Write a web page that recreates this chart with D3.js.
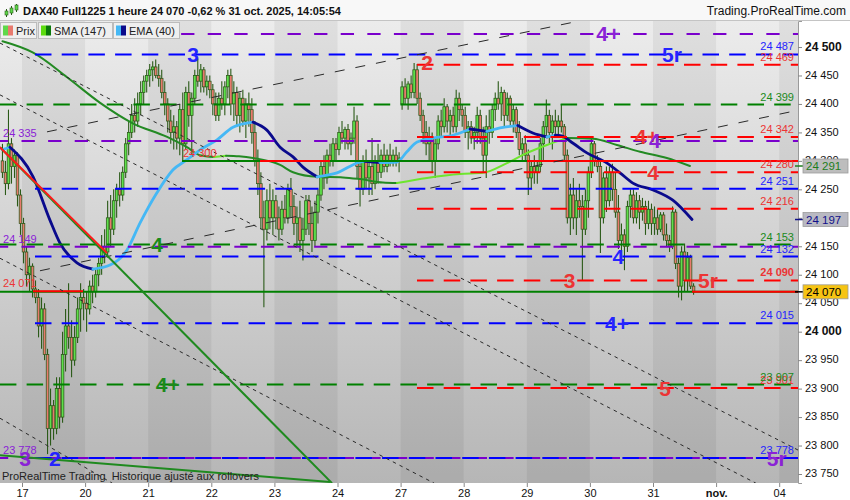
<!DOCTYPE html>
<html>
<head>
<meta charset="utf-8">
<script src="https://cdn.jsdelivr.net/npm/d3@7"></script>
<style>
  body { margin: 0; background: #fff; }
  svg { display: block; font-family: 'Liberation Sans', Arial, sans-serif; }
</style>
</head>
<body>
<div id="chart"></div>
<script>
// session tick labels (x axis)
const sessionLabels = ['17', '20', '21', '22', '23', '24', '27', '28', '29', '30', '31', 'nov.', '04']
const barsPerSession = 21

// hourly candles [open, high, low, close]
const oct16 = [[24300,24330,24270,24280],[24280,24300,24240,24260],[24260,24390,24250,24330],[24330,24340,24260,24290],[24290,24320,24270,24310],[24310,24315,24220,24240],[24240,24250,24170,24190]]
const oct17 = [[24190,24200,24120,24140],[24140,24150,24080,24100],[24100,24130,24070,24115],[24115,24120,24060,24075],[24075,24090,24050,24060],[24060,24075,23990,24010],[24010,24060,23970,24040],[24040,24050,23950,23960],[23960,23970,23785,23830],[23830,23900,23800,23870],[23870,23880,23810,23830],[23830,23920,23820,23900],[23900,23920,23830,23850],[23850,24000,23840,23960],[23960,24040,23930,24010],[24010,24085,23970,23990],[23990,24020,23920,23950],[23950,24010,23940,23990],[23990,24060,23980,24040],[24040,24085,24000,24060],[24060,24075,24020,24050]]
const oct20 = [[24050,24070,24000,24040],[24040,24090,24030,24080],[24080,24100,24050,24070],[24070,24110,24060,24100],[24100,24130,24080,24120],[24120,24170,24100,24150],[24150,24180,24120,24140],[24140,24230,24130,24200],[24200,24240,24150,24180],[24180,24250,24170,24230],[24230,24260,24200,24250],[24250,24280,24220,24240],[24240,24290,24230,24280],[24280,24340,24270,24330],[24330,24370,24310,24350],[24350,24400,24340,24380],[24380,24410,24350,24370],[24370,24420,24360,24400],[24400,24440,24380,24420],[24420,24450,24400,24440],[24440,24460,24420,24450]]
const oct21 = [[24450,24470,24430,24460],[24460,24475,24440,24465],[24465,24478,24445,24450],[24450,24470,24430,24445],[24445,24460,24410,24420],[24420,24440,24380,24400],[24400,24410,24350,24370],[24370,24390,24330,24350],[24350,24380,24320,24360],[24360,24370,24320,24340],[24340,24400,24310,24390],[24390,24420,24300,24330],[24330,24430,24320,24420],[24420,24440,24360,24380],[24380,24420,24310,24410],[24410,24460,24400,24450],[24450,24480,24430,24440],[24440,24470,24420,24460],[24460,24465,24420,24430],[24430,24450,24415,24440],[24440,24450,24410,24425]]
const oct22 = [[24425,24435,24380,24400],[24400,24420,24370,24380],[24380,24420,24370,24410],[24410,24440,24390,24400],[24400,24440,24380,24430],[24430,24460,24410,24450],[24450,24462,24380,24400],[24400,24440,24370,24420],[24420,24430,24360,24380],[24380,24420,24350,24410],[24410,24425,24360,24370],[24370,24410,24340,24400],[24400,24420,24360,24390],[24390,24410,24330,24350],[24350,24370,24290,24300],[24300,24320,24240,24260],[24260,24280,24180,24200],[24200,24230,24043,24180],[24180,24250,24160,24230],[24230,24260,24180,24200],[24200,24250,24170,24230]]
const oct23 = [[24230,24240,24180,24200],[24200,24220,24160,24180],[24180,24230,24170,24215],[24215,24240,24190,24200],[24200,24260,24190,24250],[24250,24270,24200,24220],[24220,24240,24170,24190],[24190,24220,24150,24200],[24200,24230,24140,24160],[24160,24200,24125,24180],[24180,24240,24170,24230],[24230,24240,24170,24190],[24190,24220,24140,24160],[24160,24230,24150,24210],[24210,24250,24190,24240],[24240,24300,24230,24290],[24290,24310,24250,24270],[24270,24320,24260,24310],[24310,24330,24290,24300],[24300,24340,24290,24330],[24330,24340,24300,24320]]
const oct24 = [[24320,24360,24310,24350],[24350,24370,24330,24340],[24340,24360,24320,24355],[24355,24365,24320,24330],[24330,24350,24310,24340],[24340,24395,24330,24370],[24370,24380,24270,24290],[24290,24300,24220,24250],[24250,24310,24240,24300],[24300,24320,24250,24270],[24270,24300,24240,24290],[24290,24340,24240,24260],[24260,24310,24250,24300],[24300,24330,24260,24280],[24280,24320,24270,24310],[24310,24330,24280,24290],[24290,24320,24280,24310],[24310,24330,24290,24300],[24300,24320,24290,24310],[24310,24325,24290,24300],[24300,24315,24280,24305]]
const oct27 = [[24400,24440,24390,24430],[24430,24445,24400,24410],[24410,24440,24390,24435],[24435,24450,24410,24420],[24420,24472,24410,24460],[24460,24470,24400,24410],[24410,24420,24370,24380],[24380,24390,24330,24350],[24350,24370,24310,24330],[24330,24360,24300,24340],[24340,24350,24280,24300],[24300,24340,24270,24330],[24330,24380,24320,24370],[24370,24390,24340,24360],[24360,24410,24350,24395],[24395,24400,24350,24370],[24370,24390,24340,24380],[24380,24395,24350,24360],[24360,24425,24350,24410],[24410,24420,24370,24390],[24390,24400,24360,24380]]
const oct28 = [[24380,24395,24340,24350],[24350,24370,24320,24360],[24360,24370,24330,24340],[24340,24360,24320,24350],[24350,24395,24330,24380],[24380,24390,24330,24340],[24340,24360,24280,24310],[24310,24380,24270,24360],[24360,24390,24330,24350],[24350,24400,24340,24390],[24390,24420,24370,24410],[24410,24440,24390,24400],[24400,24430,24370,24420],[24420,24425,24360,24380],[24380,24420,24370,24410],[24410,24415,24360,24370],[24370,24400,24350,24390],[24390,24395,24340,24350],[24350,24370,24310,24320],[24320,24340,24300,24330],[24330,24345,24300,24310]]
const oct29 = [[24310,24320,24240,24270],[24270,24300,24250,24290],[24290,24310,24260,24280],[24280,24300,24260,24290],[24290,24340,24280,24330],[24330,24370,24300,24360],[24360,24408,24340,24380],[24380,24390,24330,24350],[24350,24380,24320,24370],[24370,24390,24340,24360],[24360,24380,24340,24370],[24370,24400,24350,24360],[24360,24365,24300,24310],[24310,24320,24190,24200],[24200,24260,24170,24240],[24240,24270,24180,24200],[24200,24250,24170,24230],[24230,24260,24200,24220],[24220,24240,24090,24180],[24180,24250,24170,24230],[24230,24290,24200,24280]]
const oct30 = [[24280,24340,24270,24330],[24330,24335,24290,24300],[24300,24310,24280,24290],[24290,24300,24138,24200],[24200,24280,24190,24270],[24270,24290,24210,24230],[24230,24290,24220,24280],[24280,24295,24230,24250],[24250,24280,24200,24210],[24210,24240,24145,24160],[24160,24190,24140,24170],[24170,24180,24108,24150],[24150,24230,24140,24220],[24220,24250,24200,24240],[24240,24250,24190,24200],[24200,24245,24190,24230],[24230,24240,24180,24210],[24210,24235,24195,24220],[24220,24230,24170,24190],[24190,24230,24180,24215],[24215,24225,24170,24190]]
const oct31 = [[24190,24220,24170,24200],[24200,24215,24170,24180],[24180,24210,24175,24205],[24205,24210,24160,24170],[24170,24190,24150,24160],[24160,24170,24140,24150],[24150,24220,24145,24210],[24210,24215,24110,24120],[24120,24130,24060,24080],[24080,24150,24055,24140],[24140,24155,24070,24090],[24090,24140,24070,24130],[24130,24135,24075,24080],[24080,24085,24065,24070]]

// moving averages [bar index, value]
const ema40 = [[0,24320],[2.5,24324],[10.2,24272],[15.8,24196],[19.1,24156],[24.8,24121],[30.1,24110],[35.8,24117],[41.4,24143],[45.8,24191],[51.4,24244],[56.7,24284],[61.4,24302],[65.7,24319],[71.4,24337],[76.7,24359],[83.4,24368],[88,24354],[92.4,24324],[96.7,24307],[100,24289],[104.7,24272],[111.3,24279],[119,24298],[120.6,24299],[125.6,24297],[131.3,24298],[134.6,24316],[138,24333],[143.3,24340],[149.9,24345],[155.6,24356],[161.2,24352],[166.6,24359],[171.5,24362],[176.5,24349],[181.2,24342],[184,24345],[186,24344],[189.9,24331],[194.5,24314],[201.2,24296],[205.5,24279],[209.8,24261],[216.5,24249],[223.1,24231],[229.5,24197]]
const sma147 = [[0,24510],[10.2,24490],[21.5,24447],[32.5,24402],[43.4,24366],[54.8,24342],[61.4,24324],[65.7,24310],[70.4,24307],[74.4,24309],[78.7,24308],[83.4,24305],[92.4,24293],[96.7,24280],[104.7,24272],[113.3,24271],[119,24268],[126.6,24262],[131.3,24261],[141.3,24270],[152.3,24277],[159.9,24279],[167.9,24296],[174.6,24314],[181.2,24328],[187.9,24340],[196.5,24339],[204.5,24328],[212.2,24316],[221.1,24305],[228.8,24291]]

const lastPrice = 24070
const lastSma = 24291
const lastEma = 24197

// horizontal levels
const blueLevels = [24487, 24251, 24132, 24015, 23778]
const redLevels = [24469, 24342, 24280, 24216, 24090, 23901]
const greenLevels = [24399, 24153, 23907]
const purpleLevels = [24523, 24335, 24149, 23778]
const purpleLabelled = [24335, 24149, 23778]
const priceTicks = d3.range(23750, 24501, 50)

// wave counts [text, colour, session time, level]
const waveLabels = [
  ['3', 'blue', 2.71, 24487], ['4', 'green', 2.14, 24153], ['4+', 'green', 2.31, 23907],
  ['2', 'blue', 0.52, 23778], ['3', 'purple', 0.05, 23778], ['2', 'red', 6.42, 24472],
  ['4+', 'purple', 9.29, 24523], ['5r', 'blue', 10.3, 24487], ['4+', 'red', 9.9, 24342],
  ['4', 'purple', 10.03, 24335], ['4', 'red', 10.0, 24280], ['4', 'blue', 9.45, 24132],
  ['3', 'red', 8.68, 24090], ['5r', 'red', 10.87, 24090], ['4+', 'blue', 9.43, 24015],
  ['5', 'red', 10.19, 23901], ['5r', 'purple', 11.96, 23778],
]

// trend lines [t1, v1, t2, v2]
const shortDashTrends = [[-0.35, 24507, 12.3, 23792], [-0.35, 24416, 11.63, 23734], [-0.35, 24129, 6.53, 23734], [-0.35, 23848, 1.43, 23734]]
const longDashTrends = [[0.396, 24351, 8.843, 24546], [0.285, 24107, 12.3, 24389]]
const greenTrends = [[-0.35, 24324, 4.913, 23734], [-0.35, 23783, 4.881, 23736]]
const redTrend = [-0.35, 24324, 1.347, 24138]
// solid horizontal segments [value, t1, t2, colour]
const solidLevels = [
  [24300, 2.536, 3.772, 'green'], [24300, 3.772, 4.88, 'red'], [24300, 4.88, 8.003, 'green'], [24300, 8.003, 12.3, 'red'],
  [24070, -0.35, 12.3, 'green'], [24071, 0.174, 0.967, 'red'], [24070, 10.62, 12.3, 'red'],
]

const colors = {
  blue: { line: '#0000ff', text: '#2424ff' },
  red: { line: '#ff0000', text: '#ec3434' },
  green: { line: '#008000', text: '#1b8a1b' },
  purple: { line: '#7a00cc', text: '#8a22d6' },
}

const dims = { width: 850, height: 500, top: 21, bottom: 483, right: 798, sessionWidth: 63.1, firstX: 22 }

const svg = d3.select('#chart').append('svg').attr('width', dims.width).attr('height', dims.height)

const xScale = d3.scaleLinear()
  .domain([-dims.firstX / dims.sessionWidth, (dims.right - dims.firstX) / dims.sessionWidth])
  .range([0, dims.right])
const yScale = d3.scaleLinear().domain([23734.2, 24545.7]).range([dims.bottom, dims.top])
const barT = (i) => (i - (oct16.length - 0.5)) / barsPerSession
const fmt = (v) => d3.format(',')(v).replace(/,/g, ' ')

// background
const defs = svg.append('defs')
const bg = defs.append('linearGradient').attr('id', 'bg').attr('x1', 0).attr('x2', 0).attr('y1', 0).attr('y2', 1)
bg.append('stop').attr('offset', '0%').attr('stop-color', '#ececec')
bg.append('stop').attr('offset', '100%').attr('stop-color', '#b6b6b6')
defs.append('clipPath').attr('id', 'plot').append('rect')
  .attr('x', 0).attr('y', dims.top).attr('width', dims.right).attr('height', dims.bottom - dims.top)

svg.append('rect').attr('width', dims.width).attr('height', dims.height).attr('fill', '#fff')
svg.append('rect').attr('x', 0).attr('y', dims.top).attr('width', dims.right).attr('height', dims.bottom - dims.top).attr('fill', 'url(#bg)')

const ctr = svg.append('g').attr('clip-path', 'url(#plot)')

// alternate session bands
ctr.append('g').selectAll('rect')
  .data(d3.range(-1, sessionLabels.length).filter((s) => s % 2 === 0))
  .join('rect')
  .attr('x', (s) => xScale(s))
  .attr('width', xScale(1) - xScale(0))
  .attr('y', dims.top).attr('height', dims.bottom - dims.top)
  .attr('fill', '#000').attr('opacity', 0.055)

// candles
const candles = []
;[oct16, oct17, oct20, oct21, oct22, oct23, oct24, oct27, oct28, oct29, oct30, oct31].forEach((bars, s) => {
  const first = s === 0 ? barsPerSession - bars.length : 0
  bars.forEach((b, k) => candles.push({ t: s - 1 + (first + k + 0.5) / barsPerSession, o: b[0], h: b[1], l: b[2], c: b[3] }))
})
const candleG = ctr.append('g')
candleG.selectAll('line').data(candles).join('line')
  .attr('x1', (d) => xScale(d.t)).attr('x2', (d) => xScale(d.t))
  .attr('y1', (d) => yScale(d.h)).attr('y2', (d) => yScale(d.l))
  .attr('stroke', '#2b5a18').attr('stroke-width', 1.1)
candleG.selectAll('rect').data(candles).join('rect')
  .attr('x', (d) => xScale(d.t) - 1.3).attr('width', 2.6)
  .attr('y', (d) => yScale(Math.max(d.o, d.c)))
  .attr('height', (d) => Math.max(0.8, Math.abs(yScale(d.o) - yScale(d.c))))
  .attr('fill', (d) => (d.c >= d.o ? '#5ee04a' : '#e87a6e'))
  .attr('stroke', '#2b5a18').attr('stroke-width', 0.75)

// moving averages, light when rising and dark when falling
const maLine = d3.line().x((p) => xScale(barT(p[0]))).y((p) => yScale(p[1])).curve(d3.curveMonotoneX)
const drawMa = (points, up, down, width) => {
  const runs = []
  for (let k = 1; k < points.length; k++) {
    const dir = points[k][1] >= points[k - 1][1] ? 'up' : 'down'
    const last = runs[runs.length - 1]
    if (last && last.dir === dir) last.pts.push(points[k])
    else runs.push({ dir, pts: [points[k - 1], points[k]] })
  }
  ctr.append('g').selectAll('path').data(runs).join('path')
    .attr('d', (r) => maLine(r.pts))
    .attr('fill', 'none')
    .attr('stroke', (r) => (r.dir === 'up' ? up : down))
    .attr('stroke-width', width)
    .attr('stroke-linecap', 'round')
}
drawMa(sma147, '#6ee62e', '#238a23', 2)
drawMa(ema40, '#45b8f5', '#0a0a8c', 2.8)

// dashed levels
const levelSets = [
  { values: greenLevels, color: 'green', from: -0.35, dash: '16.5 10.2', offset: 0 },
  { values: purpleLevels, color: 'purple', from: -0.35, dash: '13.3 13.3', offset: 5 },
  { values: blueLevels, color: 'blue', from: 0.206, dash: '16.5 10.2', offset: 0 },
  { values: redLevels, color: 'red', from: 6.26, dash: '16.5 10.2', offset: 0 },
]
levelSets.forEach((set) => {
  ctr.append('g').selectAll('line').data(set.values).join('line')
    .attr('x1', xScale(set.from)).attr('x2', dims.right)
    .attr('y1', (d) => yScale(d)).attr('y2', (d) => yScale(d))
    .attr('stroke', colors[set.color].line).attr('stroke-width', 2)
    .attr('stroke-dasharray', set.dash).attr('stroke-dashoffset', set.offset)
})

// solid horizontal segments
ctr.append('g').selectAll('line').data(solidLevels).join('line')
  .attr('x1', (d) => xScale(d[1])).attr('x2', (d) => xScale(d[2]))
  .attr('y1', (d) => yScale(d[0])).attr('y2', (d) => yScale(d[0]))
  .attr('stroke', (d) => colors[d[3]].line).attr('stroke-width', 2)

// trend lines
const trend = (g, data) => g.selectAll('line').data(data).join('line')
  .attr('x1', (d) => xScale(d[0])).attr('y1', (d) => yScale(d[1]))
  .attr('x2', (d) => xScale(d[2])).attr('y2', (d) => yScale(d[3]))
trend(ctr.append('g'), shortDashTrends).attr('stroke', '#2a2a2a').attr('stroke-width', 1).attr('stroke-dasharray', '3.5 4')
trend(ctr.append('g'), longDashTrends).attr('stroke', '#2a2a2a').attr('stroke-width', 1).attr('stroke-dasharray', '10 11')
trend(ctr.append('g'), greenTrends).attr('stroke', '#1f8a1f').attr('stroke-width', 2)
trend(ctr.append('g'), [redTrend]).attr('stroke', '#ff1a1a').attr('stroke-width', 2)

// value labels on the levels
const rightLabels = [
  ...blueLevels.map((v) => ({ v, c: 'blue' })),
  ...redLevels.map((v) => ({ v, c: 'red' })),
  ...greenLevels.map((v) => ({ v, c: 'green' })),
]
ctr.append('g').selectAll('text').data(rightLabels).join('text')
  .attr('x', dims.right - 4).attr('y', (d) => yScale(d.v) - 4)
  .attr('text-anchor', 'end').attr('font-size', 11)
  .attr('font-weight', (d) => (d.v === 24090 ? 'bold' : 'normal'))
  .attr('fill', (d) => colors[d.c].text)
  .text((d) => fmt(d.v))

const leftLabels = [
  ...purpleLabelled.map((v) => ({ v, c: 'purple', t: -0.3 })),
  { v: 24071, c: 'red', t: -0.3 },
  { v: 24300, c: 'red', t: 2.55 },
]
ctr.append('g').selectAll('text').data(leftLabels).join('text')
  .attr('x', (d) => xScale(d.t)).attr('y', (d) => yScale(d.v) - 4)
  .attr('font-size', 11).attr('fill', (d) => colors[d.c].text)
  .text((d) => fmt(d.v))

ctr.append('g').selectAll('text').data(waveLabels).join('text')
  .attr('x', (d) => xScale(d[2])).attr('y', (d) => yScale(d[3]))
  .attr('text-anchor', 'middle').attr('dominant-baseline', 'central')
  .attr('font-size', 21).attr('font-weight', 'bold')
  .attr('fill', (d) => colors[d[1]].text)
  .text((d) => d[0])

// axes
svg.append('rect').attr('x', dims.right).attr('y', dims.top).attr('width', dims.width - dims.right).attr('height', dims.height - dims.top).attr('fill', '#fff')
svg.append('rect').attr('x', 0).attr('y', dims.bottom).attr('width', dims.width).attr('height', dims.height - dims.bottom).attr('fill', '#fff')

const yAxisGroup = svg.append('g')
  .attr('transform', `translate(${dims.right},0)`)
  .call(d3.axisRight(yScale).tickValues(priceTicks).tickSize(4).tickPadding(3).tickFormat(fmt))
yAxisGroup.select('.domain').attr('stroke', '#9a9a9a')
yAxisGroup.selectAll('.tick line').attr('stroke', '#888')
yAxisGroup.selectAll('.tick text')
  .attr('fill', '#111').attr('font-family', null).attr('dy', '0.25em')
  .attr('font-size', (d) => (d % 500 === 0 ? 12 : 11))
  .attr('font-weight', (d) => (d % 500 === 0 ? 'bold' : 'normal'))

const xAxisGroup = svg.append('g')
  .attr('transform', `translate(0,${dims.bottom})`)
  .call(d3.axisBottom(xScale).tickValues(d3.range(sessionLabels.length)).tickSize(4).tickPadding(2).tickFormat((i) => sessionLabels[i]))
xAxisGroup.select('.domain').remove()
xAxisGroup.selectAll('.tick line').attr('stroke', '#888')
xAxisGroup.selectAll('.tick text')
  .attr('fill', '#111').attr('font-family', null).attr('font-size', 11)
  .attr('font-weight', (i) => (sessionLabels[i] === 'nov.' ? 'bold' : 'normal'))

// last value boxes on the price axis
const boxes = [
  { v: lastSma, fill: '#bdbdbd', text: '#1d7d1d', tick: '#1d7d1d' },
  { v: lastEma, fill: '#b9b9c2', text: '#10108a', tick: '#10108a' },
  { v: lastPrice, fill: '#f6c413', text: '#000', tick: '#000' },
]
const boxG = svg.append('g').selectAll('g').data(boxes).join('g')
  .attr('transform', (d) => `translate(${dims.right},${yScale(d.v)})`)
boxG.append('line').attr('x1', -3).attr('x2', 5).attr('stroke', (d) => d.tick).attr('stroke-width', 1.5)
boxG.append('rect').attr('x', 5).attr('y', -7).attr('width', 45).attr('height', 14)
  .attr('fill', (d) => d.fill).attr('stroke', '#9c9c9c').attr('stroke-width', 0.8)
boxG.append('text').attr('x', 8).attr('dy', '0.36em').attr('font-size', 11.5)
  .attr('fill', (d) => d.text).text((d) => fmt(d.v))

// header
svg.append('rect').attr('width', dims.width).attr('height', dims.top - 1).attr('fill', '#f8f8f8')
svg.append('line').attr('x1', 0).attr('x2', dims.width).attr('y1', dims.top - 0.5).attr('y2', dims.top - 0.5).attr('stroke', '#c4c4c4')
const icon = svg.append('g').attr('transform', 'translate(4,4)')
icon.append('line').attr('x1', 2.5).attr('x2', 2.5).attr('y1', 5).attr('y2', 13).attr('stroke', '#2b5a18')
icon.append('rect').attr('x', 1).attr('y', 7).attr('width', 3).attr('height', 4).attr('fill', '#5ed84a').attr('stroke', '#2b5a18').attr('stroke-width', 0.6)
icon.append('line').attr('x1', 7.5).attr('x2', 7.5).attr('y1', 2).attr('y2', 11).attr('stroke', '#2b5a18')
icon.append('rect').attr('x', 6).attr('y', 4).attr('width', 3).attr('height', 5).attr('fill', '#5ed84a').attr('stroke', '#2b5a18').attr('stroke-width', 0.6)
icon.append('line').attr('x1', 12.5).attr('x2', 12.5).attr('y1', 0).attr('y2', 8).attr('stroke', '#2b5a18')
icon.append('rect').attr('x', 11).attr('y', 1).attr('width', 3).attr('height', 5).attr('fill', '#5ed84a').attr('stroke', '#2b5a18').attr('stroke-width', 0.6)

svg.append('text').attr('x', 23).attr('y', 15).attr('font-size', 11).attr('font-weight', 'bold').attr('fill', '#111')
  .text('DAX40 Full1225 1 heure 24 070 -0,62 % 31 oct. 2025, 14:05:54')
svg.append('text').attr('x', 846).attr('y', 15).attr('text-anchor', 'end').attr('font-size', 12).attr('fill', '#111')
  .text('Trading.ProRealTime.com')

// legend
const legend = [
  { x: 0, w: 37, label: 'Prix', c1: '#5ed84a', c2: '#e87a6e' },
  { x: 38, w: 75, label: 'SMA (147)', c1: '#5cdc10', c2: '#0a780a' },
  { x: 113, w: 67, label: 'EMA (40)', c1: '#45b8f5', c2: '#0a0a8c' },
]
const lg = svg.append('g').selectAll('g').data(legend).join('g').attr('transform', (d) => `translate(${d.x},${dims.top + 1})`)
lg.append('rect').attr('x', 0.5).attr('y', 0.5).attr('width', (d) => d.w - 1).attr('height', 16).attr('fill', '#efefef').attr('stroke', '#bcbcbc')
lg.append('rect').attr('x', 3).attr('y', 3.5).attr('width', 5).attr('height', 10).attr('fill', (d) => d.c1)
lg.append('rect').attr('x', 8).attr('y', 3.5).attr('width', 5).attr('height', 10).attr('fill', (d) => d.c2)
lg.append('text').attr('x', 16).attr('y', 12.5).attr('font-size', 11).attr('fill', '#222').text((d) => d.label)

svg.append('text').attr('x', 2).attr('y', 480).attr('font-size', 11).attr('fill', '#222')
  .style('white-space', 'pre')
  .text('ProRealTime Trading  Historique ajusté aux rollovers')
</script>
</body>
</html>
